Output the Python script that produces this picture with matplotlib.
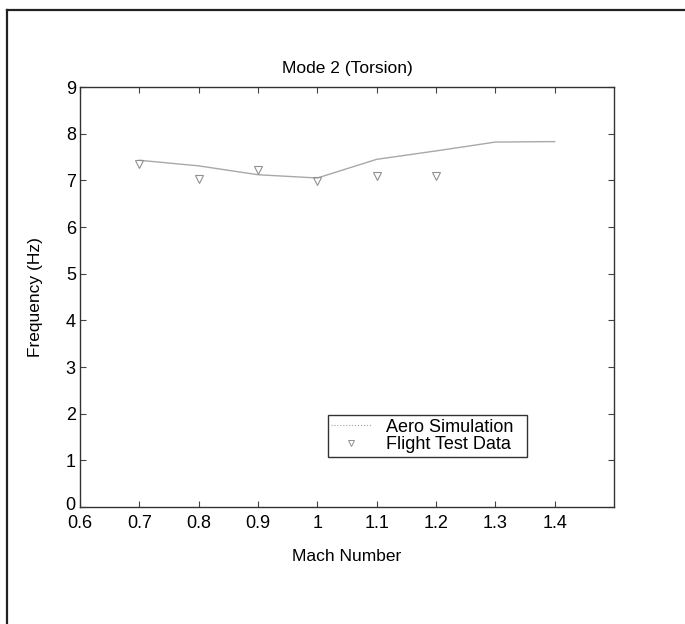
import matplotlib
matplotlib.use("Agg")
import matplotlib.pyplot as plt
from matplotlib.lines import Line2D
import matplotlib.transforms as mtransforms

plt.rcParams['font.family'] = ['Liberation Sans', 'DejaVu Sans']

mach_sim = [0.7, 0.8, 0.9, 1.0, 1.1, 1.2, 1.3, 1.4]
freq_sim = [7.43, 7.31, 7.12, 7.05, 7.45, 7.63, 7.82, 7.83]

mach_test = [0.7, 0.8, 0.9, 1.0, 1.1, 1.2]
freq_test = [7.35, 7.03, 7.23, 6.99, 7.09, 7.10]

xticks = [0.6, 0.7, 0.8, 0.9, 1.0, 1.1, 1.2, 1.3, 1.4]
xticklabels = ['0.6', '0.7', '0.8', '0.9', '1', '1.1', '1.2', '1.3', '1.4']
yticks = list(range(0, 10))

fig = plt.figure(figsize=(6.85, 6.24), dpi=100)
ax = fig.add_axes([80/685, 117/624, 534/685, 420/624])

ax.plot(mach_sim, freq_sim, color='#a8a8a8', lw=1.0, label='Aero Simulation')
ax.plot(mach_test, freq_test, linestyle='none', marker='v', markersize=6,
        markerfacecolor='none', markeredgecolor='#909090', markeredgewidth=0.8,
        label='Flight Test Data')

ax.set_xlim(0.6, 1.5)
ax.set_ylim(0, 9)
ax.set_xticks(xticks)
ax.set_xticklabels(xticklabels)
ax.set_yticks(yticks)
ax.tick_params(direction='in', top=True, right=True, labelsize=13, length=4,
               width=0.8, color='#444444')
ax.tick_params(axis='x', pad=6)
ax.tick_params(axis='y', pad=3)
for s in ax.spines.values():
    s.set_color('#333333')
    s.set_linewidth(1.0)

# nudge the "0" y label slightly up so it does not collide with "0.6"
ylab0 = ax.get_yticklabels()[0]
ylab0.set_transform(ylab0.get_transform() +
                    mtransforms.ScaledTranslation(0, 4/100, fig.dpi_scale_trans))

ax.set_title('Mode 2 (Torsion)', fontsize=12.5, pad=10)
ax.set_xlabel('Mach Number', fontsize=12.5, labelpad=12)
ax.set_ylabel('Frequency (Hz)', fontsize=12.5, labelpad=16)

handles = [Line2D([], [], color='#a0a0a0', lw=0.8, linestyle=':'),
           Line2D([], [], linestyle='none', marker='v', markersize=5,
                  markerfacecolor='none', markeredgecolor='#909090', markeredgewidth=0.7)]
leg = ax.legend(handles, ['Aero Simulation', 'Flight Test Data'],
                loc='lower left', bbox_to_anchor=(0.464, 0.119, 0.373, 0.112),
                mode='expand', borderaxespad=0, fancybox=False, framealpha=1,
                edgecolor='#333333', fontsize=13, handlelength=2.2,
                labelspacing=0.05, borderpad=0.2)
leg.get_frame().set_linewidth(1.0)

# outer frame (top and left)
fig.add_artist(Line2D([7/685, 1.0], [1 - 10/624, 1 - 10/624], transform=fig.transFigure,
                      color='#222222', lw=1.6))
fig.add_artist(Line2D([7/685, 7/685], [0.0, 1 - 10/624], transform=fig.transFigure,
                      color='#222222', lw=1.6))

fig.savefig('out.png', dpi=100)
